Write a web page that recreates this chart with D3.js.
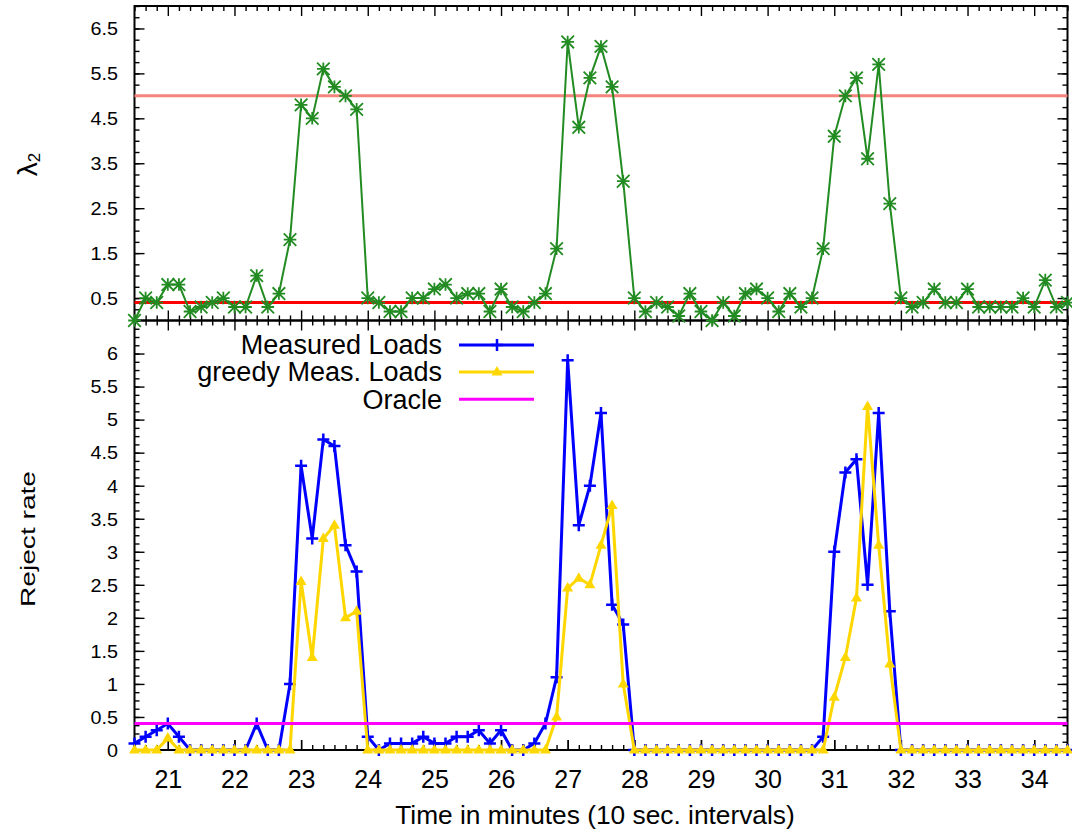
<!DOCTYPE html>
<html><head><meta charset="utf-8">
<script src="https://cdn.jsdelivr.net/npm/d3@7"></script>
<style>body{margin:0;background:#fff}svg{display:block;font-family:"Liberation Sans",Arial,Helvetica,sans-serif}</style>
</head><body><svg id="c" width="1072" height="834"></svg>
<script>
// ---- data (10-second samples starting at minute 20.5) ----
const startMinute = 20.5;
const stepMinutes = 1 / 6;
const lambda2 = [0.0,0.5,0.4,0.8,0.8,0.2,0.3,0.4,0.5,0.3,0.3,1.0,0.3,0.6,1.8,4.8,4.5,5.6,5.2,5.0,4.7,0.5,0.4,0.2,0.2,0.5,0.5,0.7,0.8,
  0.5,0.6,0.6,0.2,0.7,0.3,0.2,0.4,0.6,1.6,6.2,4.3,5.4,6.1,5.2,3.1,0.5,0.2,0.4,0.3,0.1,0.6,0.2,0.0,0.4,0.1,0.6,0.7,0.5,
  0.2,0.6,0.3,0.5,1.6,4.1,5.0,5.4,3.6,5.7,2.6,0.5,0.3,0.4,0.7,0.4,0.4,0.7,0.3,0.3,0.3,0.3,0.5,0.3,0.9,0.3,0.4];
const measuredLoads = [0.1,0.2,0.3,0.4,0.2,0,0,0,0,0,0,0.4,0,0,1.0,4.3,3.2,4.7,4.6,3.1,2.7,0.2,0,0.1,0.1,0.1,0.2,0.1,0.1,
  0.2,0.2,0.3,0.1,0.3,0,0,0.1,0.4,1.1,5.9,3.4,4.0,5.1,2.2,1.9,0,0,0,0,0,0,0,0,0,0,0,0,0,
  0,0,0,0,0.2,3.0,4.2,4.4,2.5,5.1,2.1,0,0,0,0,0,0,0,0,0,0,0,0,0,0,0,0];
const greedyLoads = [0,0,0,0.18,0,0,0,0,0,0,0,0,0,0,0,2.55,1.4,3.2,3.4,2.0,2.1,0,0,0,0,0,0,0,0,
  0,0,0,0,0,0,0,0,0,0.5,2.45,2.6,2.5,3.1,3.7,1.0,0,0,0,0,0,0,0,0,0,0,0,0,0,
  0,0,0,0,0,0.8,1.4,2.3,5.2,3.1,1.3,0,0,0,0,0,0,0,0,0,0,0,0,0,0,0,0];
const oracleLevel = 0.4;
const lambdaUpper = 5.0;
const lambdaLower = 0.4;
const xTickLabels = [21,22,23,24,25,26,27,28,29,30,31,32,33,34];
const lambdaTicks = [0.5,1.5,2.5,3.5,4.5,5.5,6.5];
const rejectTicks = [0,0.5,1,1.5,2,2.5,3,3.5,4,4.5,5,5.5,6];
const legendNames = ["Measured Loads","greedy Meas. Loads","Oracle"];
const xTitle = "Time in minutes (10 sec. intervals)";

const times = lambda2.map((_, i) => startMinute + i * stepMinutes);

// ---- layout ----
const L = 134.5, R = 1067.5, T = 6, MID = 320.5, B = 750;
const svg = d3.select("#c");
const x = d3.scaleLinear([20.5, 34.5], [L, R]);
const yTop = d3.scaleLinear([0, 7], [MID, T]);
const yBot = d3.scaleLinear([0, 6.5], [B, MID]);

const xMinor = times.filter(t => Math.abs(t - Math.round(t)) > 1e-6);
const yTopMinor = d3.range(0, 28.001, 1).map(k => k / 4);
const yBotMinor = d3.range(0, 52.001, 1).map(k => k / 8);

function axis(gen, tx, ty, values, size, fmt, fontSize) {
  const g = svg.append("g").attr("transform", `translate(${tx},${ty})`)
    .call(gen.tickValues(values).tickSizeInner(-size).tickSizeOuter(0).tickPadding(fmt ? 16 : 0).tickFormat(fmt || (() => "")));
  g.select(".domain").remove();
  g.selectAll(".tick line").attr("stroke", "#000").attr("stroke-width", 1.4);
  g.selectAll(".tick text").attr("fill", "#000").attr("font-size", fontSize || 10)
    .attr("font-family", '"Liberation Sans",Arial,sans-serif');
  return g;
}

// ticks for both panels
[[yTop, yTopMinor, lambdaTicks, MID, T], [yBot, yBotMinor, rejectTicks, B, MID]].forEach(([ys, minor, major, bottom, top]) => {
  axis(d3.axisLeft(ys), L, 0, minor, 5);
  axis(d3.axisRight(ys), R, 0, minor, 5);
  axis(d3.axisRight(ys), R, 0, major, 10);
  axis(d3.axisBottom(x), 0, bottom, xMinor, 5);
  axis(d3.axisTop(x), 0, top, xMinor, 5);
  axis(d3.axisBottom(x), 0, bottom, xTickLabels, 10);
  axis(d3.axisTop(x), 0, top, xTickLabels, 10);
});
const ytl = axis(d3.axisLeft(yTop), L, 0, lambdaTicks, 10, d3.format(".1f"), 17.5);
const ybl = axis(d3.axisLeft(yBot), L, 0, rejectTicks, 10, d => String(d), 17.5);
const sx = 1.13;
[ytl, ybl].forEach(g => g.selectAll(".tick text").attr("dy", "0.36em")
  .attr("x", -16.5 / sx).attr("transform", `scale(${sx},1)`));
const xl = axis(d3.axisBottom(x), 0, B, xTickLabels, 10, d => String(d), 25);
xl.selectAll(".tick text").attr("y", 38).attr("dy", 0);

// frames
svg.append("rect").attr("x", L).attr("y", T).attr("width", R - L).attr("height", MID - T)
  .attr("fill", "none").attr("stroke", "#000").attr("stroke-width", 2);
svg.append("rect").attr("x", L).attr("y", MID).attr("width", R - L).attr("height", B - MID)
  .attr("fill", "none").attr("stroke", "#000").attr("stroke-width", 2);

// ---- top panel ----
const hline = (ys, v, color, w) => svg.append("line").attr("x1", L).attr("x2", R)
  .attr("y1", ys(v)).attr("y2", ys(v)).attr("stroke", color).attr("stroke-width", w);
hline(yTop, lambdaUpper, "#F4847C", 3);
hline(yTop, lambdaLower, "#FF0000", 3);

const green = "#228B22";
svg.append("path").datum(lambda2)
  .attr("d", d3.line().x((d, i) => x(times[i])).y(d => yTop(d)))
  .attr("fill", "none").attr("stroke", green).attr("stroke-width", 2);
const s = 6.3;
const starPath = `M${-s},0H${s}M0,${-s}V${s}M${-s},${-s}L${s},${s}M${-s},${s}L${s},${-s}`;
svg.append("g").selectAll("path").data(lambda2).join("path")
  .attr("transform", (d, i) => `translate(${x(times[i])},${yTop(d)})`)
  .attr("d", starPath).attr("stroke", green).attr("stroke-width", 1.8).attr("fill", "none");

// ---- bottom panel ----
const blue = "#0000FF", gold = "#FFD700", magenta = "#FF00FF";
const plusPath = `M-6,0H6M0,-6V6`;
const triPath = `M0,-6L5.5,3.5L-5.5,3.5Z`;
svg.append("path").datum(measuredLoads)
  .attr("d", d3.line().x((d, i) => x(times[i])).y(d => yBot(d)))
  .attr("fill", "none").attr("stroke", blue).attr("stroke-width", 3);
svg.append("g").selectAll("path").data(measuredLoads).join("path")
  .attr("transform", (d, i) => `translate(${x(times[i])},${yBot(d)})`)
  .attr("d", plusPath).attr("stroke", blue).attr("stroke-width", 2.5);
svg.append("path").datum(greedyLoads)
  .attr("d", d3.line().x((d, i) => x(times[i])).y(d => yBot(d)))
  .attr("fill", "none").attr("stroke", gold).attr("stroke-width", 3);
svg.append("g").selectAll("path").data(greedyLoads).join("path")
  .attr("transform", (d, i) => `translate(${x(times[i])},${yBot(d)})`)
  .attr("d", triPath).attr("fill", gold);
hline(yBot, oracleLevel, magenta, 3);

// legend
const leg = svg.append("g").attr("font-size", 27);
const legY = [345, 372, 399.3];
legendNames.forEach((name, k) => {
  leg.append("text").attr("x", 442).attr("y", legY[k]).attr("dy", "0.35em")
    .attr("text-anchor", "end").text(name);
  const col = [blue, gold, magenta][k];
  leg.append("line").attr("x1", 459).attr("x2", 534).attr("y1", legY[k]).attr("y2", legY[k])
    .attr("stroke", col).attr("stroke-width", 3);
  if (k === 0) leg.append("path").attr("transform", `translate(497,${legY[k]})`).attr("d", plusPath).attr("stroke", blue).attr("stroke-width", 2.5);
  if (k === 1) leg.append("path").attr("transform", `translate(497,${legY[k]})`).attr("d", triPath).attr("fill", gold);
});

// axis titles
svg.append("text").attr("x", 595).attr("y", 824).attr("text-anchor", "middle")
  .attr("font-size", 26.3).text(xTitle);
svg.append("text").attr("transform", "translate(35,539) rotate(-90)").attr("text-anchor", "middle")
  .attr("font-size", 20).attr("textLength", 136).attr("lengthAdjust", "spacingAndGlyphs").text("Reject rate");
const lam = svg.append("text").attr("transform", "translate(37,164.5) rotate(-90)").attr("text-anchor", "middle")
  .attr("font-size", 28);
lam.append("tspan").text("λ");
lam.append("tspan").attr("font-size", 17).attr("dy", 3).text("2");
</script></body></html>
